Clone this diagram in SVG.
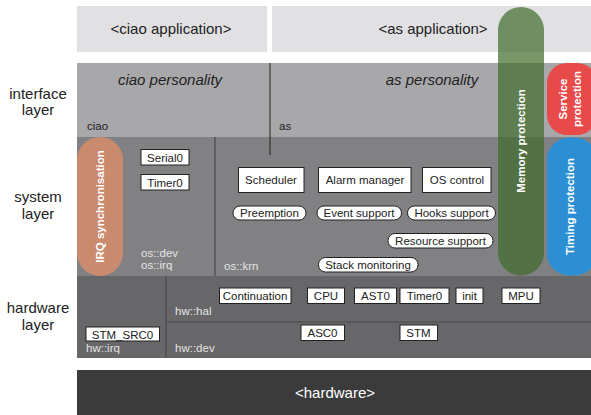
<svg xmlns="http://www.w3.org/2000/svg" width="591" height="415" viewBox="0 0 591 415">
<style>
text{font-family:"Liberation Sans",Arial,sans-serif}
.lbl{font-size:15px;fill:#222;text-anchor:middle}
.app{font-size:15px;fill:#222;text-anchor:middle}
.pers{font-size:15px;fill:#222;font-style:italic;text-anchor:middle}
.box{fill:#fff;stroke:#222;stroke-width:1}
.bt{font-size:11.5px;fill:#222;text-anchor:middle}
.ns{font-size:11.5px;fill:#e4e4e4}
.nsd{font-size:11.5px;fill:#222}
.vt{font-size:11.5px;font-weight:bold;fill:#fff;text-anchor:middle}
.div{stroke:#4a4a4c;stroke-width:1.2}
</style>
<rect width="591" height="415" fill="#fff"/>
<g id="labels">
<text class="lbl" x="38" y="99">interface</text>
<text class="lbl" x="38" y="115">layer</text>
<text class="lbl" x="38" y="202">system</text>
<text class="lbl" x="38" y="219">layer</text>
<text class="lbl" x="38" y="313">hardware</text>
<text class="lbl" x="38" y="330">layer</text>
</g>
<g id="ciao-app"><rect x="77" y="6" width="190" height="46" fill="#e1e1e3"/><text class="app" x="171" y="34">&lt;ciao application&gt;</text></g>
<g id="as-app"><rect x="272" y="6" width="319" height="46" fill="#e1e1e3"/><text class="app" x="433" y="34">&lt;as application&gt;</text></g>
<g id="interface-layer">
<rect x="77" y="63" width="514" height="74" fill="#a8a8ab"/>
<text class="pers" x="170" y="85">ciao personality</text>
<text class="pers" x="432" y="85">as personality</text>
<text class="nsd" x="87" y="130">ciao</text>
<text class="nsd" x="279" y="130">as</text>
</g>
<g id="system-layer">
<rect x="77" y="137" width="514" height="139" fill="#818184"/>
<line class="div" x1="215" y1="137" x2="215" y2="276"/>
<text class="ns" x="141" y="257">os::dev</text>
<text class="ns" x="141" y="269">os::irq</text>
<text class="ns" x="224" y="270">os::krn</text>
</g>
<g id="hardware-layer">
<rect x="77" y="276" width="514" height="82" fill="#67676a"/>
<line class="div" x1="166" y1="276" x2="166" y2="358" stroke="#404042"/>
<line class="div" x1="166" y1="322" x2="591" y2="322" stroke="#404042"/>
<text class="ns" x="175" y="315">hw::hal</text>
<text class="ns" x="175" y="352">hw::dev</text>
<text class="ns" x="86" y="352">hw::irq</text>
</g>
<g id="hardware"><rect x="77" y="370" width="514" height="45" fill="#3b3b3c"/><text class="app" x="335" y="398" fill="#fff" style="fill:#fff">&lt;hardware&gt;</text></g>
<g id="connectors">
<line x1="270" y1="63" x2="270" y2="155" stroke="#222" stroke-width="1"/>
</g>
<g id="irq-sync"><rect x="77" y="137" width="46" height="139" rx="23" fill="#c98a6e"/><text class="vt" transform="translate(104,206.5) rotate(-90)">IRQ synchronisation</text></g>
<g id="serial0"><rect class="box" x="141" y="149.5" width="48" height="15.5"/><text class="bt" x="165" y="161.5">Serial0</text></g>
<g id="timer0-sys"><rect class="box" x="141" y="174.5" width="48" height="15.5"/><text class="bt" x="165" y="186.5">Timer0</text></g>
<g id="scheduler"><rect class="box" x="238.5" y="167.5" width="65.5" height="25"/><text class="bt" x="271" y="184">Scheduler</text></g>
<g id="alarm-manager"><rect class="box" x="318.5" y="167.5" width="92.5" height="25"/><text class="bt" x="365" y="184">Alarm manager</text></g>
<g id="os-control"><rect class="box" x="422.5" y="167.5" width="68.5" height="25"/><text class="bt" x="457" y="184">OS control</text></g>
<g id="preemption"><rect class="box" x="233" y="206" width="73" height="14" rx="7"/><text class="bt" x="269.5" y="217">Preemption</text></g>
<g id="event-support"><rect class="box" x="317" y="206" width="84.5" height="14" rx="7"/><text class="bt" x="359" y="217">Event support</text></g>
<g id="hooks-support"><rect class="box" x="407.5" y="206" width="88" height="14" rx="7"/><text class="bt" x="451.5" y="217">Hooks support</text></g>
<g id="resource-support"><rect class="box" x="388" y="233.5" width="105" height="14.5" rx="7"/><text class="bt" x="440.5" y="245">Resource support</text></g>
<g id="stack-monitoring"><rect class="box" x="318.5" y="257.5" width="99.5" height="14.5" rx="7"/><text class="bt" x="368" y="269">Stack monitoring</text></g>
<g id="continuation"><rect class="box" x="219.5" y="288" width="71.5" height="15.5"/><text class="bt" x="255" y="300">Continuation</text></g>
<g id="cpu"><rect class="box" x="307.5" y="288" width="37" height="15.5"/><text class="bt" x="326" y="300">CPU</text></g>
<g id="ast0"><rect class="box" x="354.5" y="288" width="42" height="15.5"/><text class="bt" x="375.5" y="300">AST0</text></g>
<g id="timer0-hw"><rect class="box" x="400" y="288" width="49" height="15.5"/><text class="bt" x="424.5" y="300">Timer0</text></g>
<g id="init"><rect class="box" x="456" y="288" width="27" height="15.5"/><text class="bt" x="469.5" y="300">init</text></g>
<g id="mpu"><rect class="box" x="502" y="288" width="38" height="15.5"/><text class="bt" x="521" y="300">MPU</text></g>
<g id="asc0"><rect class="box" x="301" y="325" width="43.5" height="15.5"/><text class="bt" x="322.5" y="337">ASC0</text></g>
<g id="stm"><rect class="box" x="400" y="325" width="37.5" height="15.5"/><text class="bt" x="418.5" y="337">STM</text></g>
<g id="stm-src0"><rect class="box" x="86" y="327" width="73.5" height="14"/><text class="bt" x="122.5" y="338.5">STM_SRC0</text></g>
<g id="memory-protection"><rect x="498" y="7" width="46" height="268.5" rx="23" fill="#3e6b2a" fill-opacity="0.7"/><text class="vt" font-size="11" transform="translate(525,141) rotate(-90)">Memory protection</text></g>
<g id="service-protection"><rect x="547" y="63" width="50" height="72" rx="20" fill="#e84a4a"/><text class="vt" font-size="11" transform="translate(567,99) rotate(-90)">Service</text><text class="vt" font-size="11" transform="translate(580.5,99) rotate(-90)">protection</text></g>
<g id="timing-protection"><rect x="547" y="137.5" width="50" height="138" rx="22" fill="#2d8fd3"/><text class="vt" transform="translate(573.5,206.5) rotate(-90)">Timing protection</text></g>
</svg>
